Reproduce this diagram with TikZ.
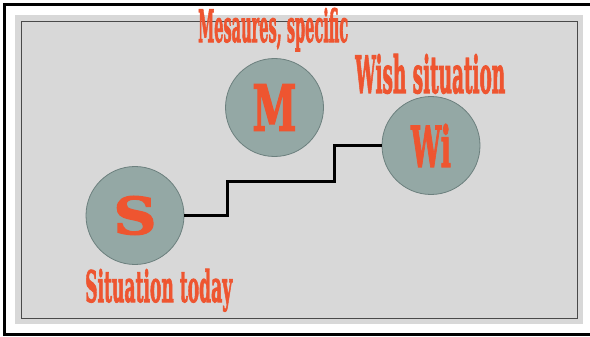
\documentclass[tikz,border=0pt]{standalone}
\usepackage{fontspec}
\setmainfont{DejaVu Serif}[BoldFeatures={FakeBold=2.5}]
\usepackage{graphicx}
\definecolor{bgpanel}{HTML}{D8D8D8}
\definecolor{innerline}{HTML}{4A4A4A}
\definecolor{circfill}{HTML}{94A8A5}
\definecolor{circline}{HTML}{6C807E}
\definecolor{txtorange}{HTML}{EE5530}
\tikzset{
  bubble/.style={circle, draw=circline, line width=0.8pt, fill=circfill, minimum size=98pt, inner sep=0pt, text=txtorange, font=\bfseries},
  caption/.style={inner sep=0pt, anchor=base west, text=txtorange, font=\bfseries},
  stepline/.style={line width=3pt, black, line join=miter}
}
\begin{document}
\begin{tikzpicture}[x=1pt, y=-1pt]
\useasboundingbox (0,0) rectangle (590,337);
\fill[white] (0,0) rectangle (590,337);
\begin{scope}
\clip (0,0) rectangle (590,337);
\draw[line width=3pt, black] (4.5,5) rectangle (600,334.5);
\end{scope}
\fill[bgpanel] (15,15) rectangle (583,324);
\draw[innerline, line width=1pt] (21,22) rectangle (577,318);
% circles
\node[bubble] (S) at (135,215.5) {\resizebox{43pt}{38pt}{S}};
\node[bubble] (M) at (274.5,107.5) {\resizebox{44pt}{46pt}{M}};
\node[bubble] (Wi) at (431,145.5) {\resizebox{40pt}{43pt}{Wi}};
% labels
\node[caption] (lm) at (198,42) {\resizebox{150pt}{34pt}{Mesaures, specific}};
\node[caption] (lw) at (355,93) {\resizebox{150pt}{39pt}{Wish situation}};
\node[caption] (ls) at (85,302) {\resizebox{147pt}{33pt}{Situation today}};
% connector
\coordinate (k1) at (227,181);
\coordinate (k2) at (334,145.5);
\draw[stepline] (S.east) -| (k1) -| (k2) -- (Wi.west);
\end{tikzpicture}
\end{document}
